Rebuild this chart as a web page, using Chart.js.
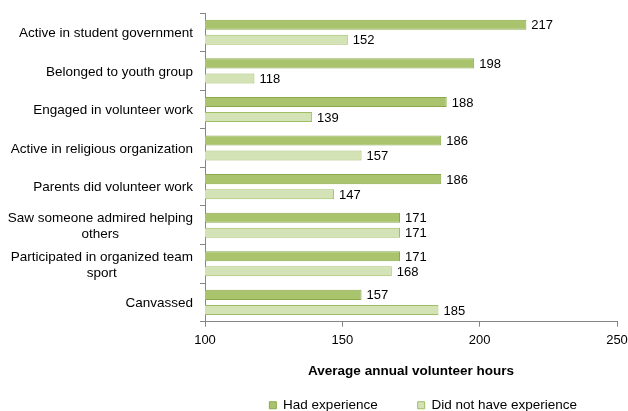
<!DOCTYPE html>
<html>
<head>
<meta charset="utf-8">
<script src="https://cdn.jsdelivr.net/npm/chart.js@4.4.0/dist/chart.umd.min.js"></script>
<style>
    html, body { margin: 0; padding: 0; background: #fff; }
    #wrap { width: 628px; height: 411px; position: relative; }
</style>
</head>
<body>
<div id="wrap"><canvas id="chart-volunteer"></canvas></div>
<script>
const categories = [
    ['Active in student government'],
    ['Belonged to youth group'],
    ['Engaged in volunteer work'],
    ['Active in religious organization'],
    ['Parents did volunteer work'],
    ['Saw someone admired helping', 'others'],
    ['Participated in organized team', 'sport'],
    ['Canvassed']
];
const hadExperience = [217, 198, 188, 186, 186, 171, 171, 157];
const noExperience = [152, 118, 139, 157, 147, 171, 168, 185];
const xTicks = [100, 150, 200, 250];

const FONT = 'Liberation Sans, Arial, sans-serif';

// value labels to the right of each bar
const valueLabels = {
    id: 'valueLabels',
    afterDatasetsDraw(chart) {
        const ctx = chart.ctx;
        ctx.save();
        ctx.font = '13px ' + FONT;
        ctx.fillStyle = '#000';
        ctx.textAlign = 'left';
        ctx.textBaseline = 'middle';
        chart.data.datasets.forEach((ds, i) => {
            chart.getDatasetMeta(i).data.forEach((bar, j) => {
                ctx.fillText(ds.data[j], bar.x + 5, bar.y + 1);
            });
        });
        ctx.restore();
    }
};

// category labels: block right-aligned to the axis, lines centred inside the block
const categoryLabels = {
    id: 'categoryLabels',
    afterDraw(chart) {
        const ctx = chart.ctx;
        const yScale = chart.scales.y;
        const lineH = 16;
        ctx.save();
        ctx.font = '13.5px ' + FONT;
        ctx.fillStyle = '#000';
        ctx.textAlign = 'center';
        ctx.textBaseline = 'middle';
        categories.forEach((lines, i) => {
            const blockW = Math.max(...lines.map(l => ctx.measureText(l).width));
            const cx = yScale.right - 12 - blockW / 2;
            const cy = yScale.getPixelForValue(i) - (lines.length - 1) * lineH / 2 + 1;
            lines.forEach((l, k) => ctx.fillText(l, cx, cy + k * lineH));
        });
        ctx.restore();
    }
};

const ctx = document.getElementById('chart-volunteer').getContext('2d');

new Chart(ctx, {
    type: 'bar',
    data: {
        labels: categories,
        datasets: [{
            label: 'Had experience',
            data: hadExperience,
            backgroundColor: '#a9c46d',
            borderColor: '#89a94b',
            borderWidth: 1,
            borderSkipped: false,
            categoryPercentage: 0.78,
            barPercentage: 0.667
        }, {
            label: 'Did not have experience',
            data: noExperience,
            backgroundColor: '#d4e3b6',
            borderColor: '#9fbd62',
            borderWidth: 1,
            borderSkipped: false,
            categoryPercentage: 0.78,
            barPercentage: 0.667
        }]
    },
    options: {
        indexAxis: 'y',
        responsive: true,
        maintainAspectRatio: false,
        animation: false,
        layout: { padding: { top: 13, right: 0, left: 0, bottom: -11 } },
        plugins: {
            legend: {
                position: 'bottom',
                align: 'end',
                fullSize: false,
                labels: {
                    boxWidth: 7,
                    boxHeight: 7,
                    padding: 40,
                    color: '#000',
                    font: { family: FONT, size: 13.5 }
                }
            },
            tooltip: { enabled: false }
        },
        scales: {
            x: {
                min: 100,
                max: 250,
                afterBuildTicks: s => { s.ticks = xTicks.map(v => ({ value: v })); },
                afterFit: s => { s.paddingRight = 11; },
                grid: { drawOnChartArea: false, tickLength: 5, color: '#868686' },
                border: { color: '#868686' },
                ticks: { color: '#000', padding: 6, font: { family: FONT, size: 13 } },
                title: {
                    display: true,
                    text: 'Average annual volunteer hours',
                    color: '#000',
                    font: { family: FONT, size: 13.5, weight: 'bold' },
                    padding: { top: 9, bottom: -21 }
                }
            },
            y: {
                afterFit: s => { s.width = 205; },
                grid: { drawOnChartArea: false, tickLength: 5, color: '#868686' },
                border: { color: '#868686' },
                ticks: { color: 'transparent', font: { family: FONT, size: 13 } }
            }
        }
    },
    plugins: [valueLabels, categoryLabels]
});
</script>
</body>
</html>
